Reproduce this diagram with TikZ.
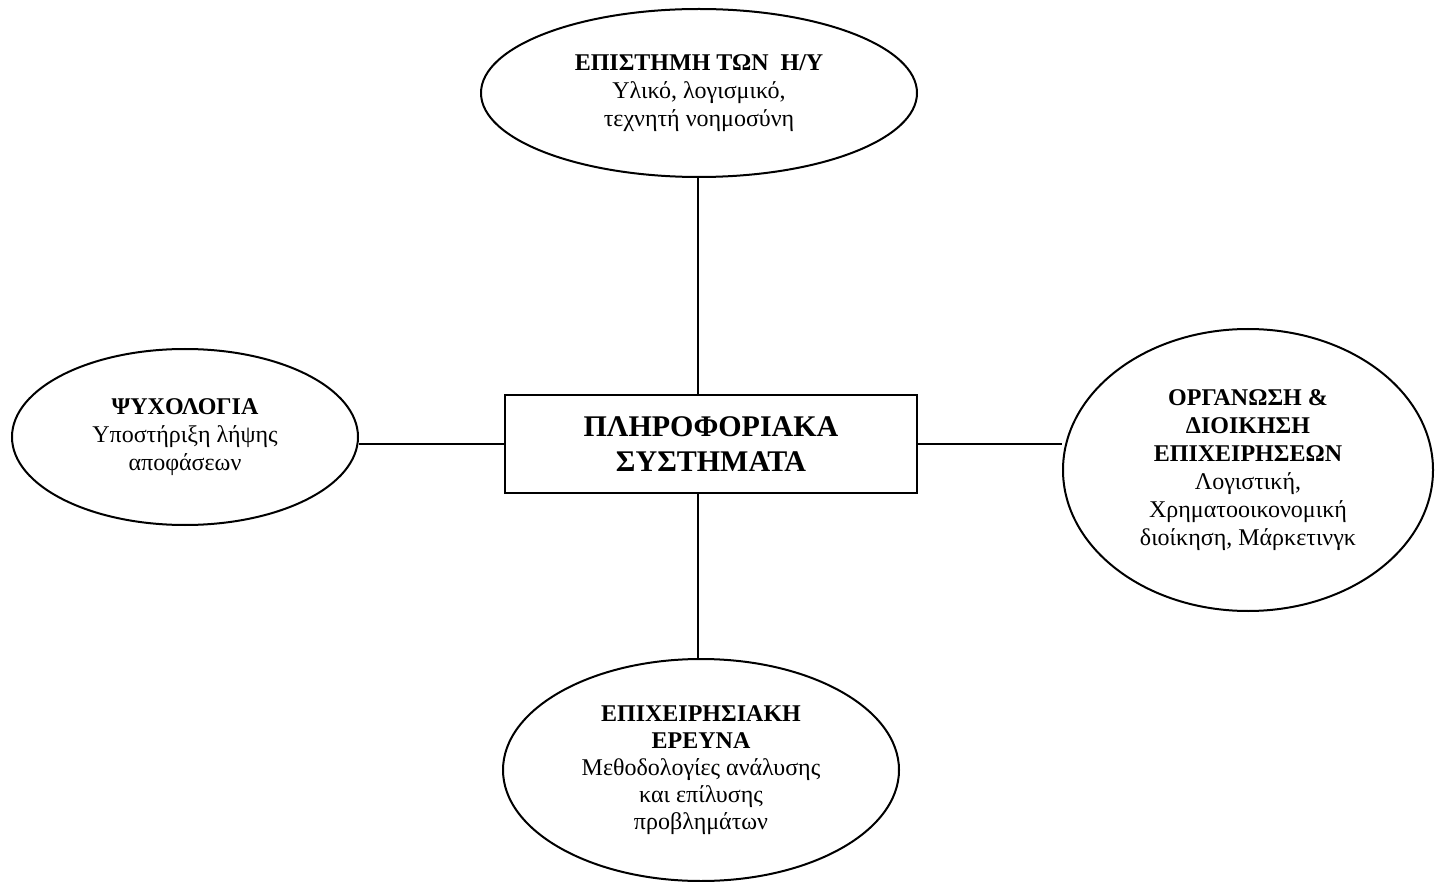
\documentclass[tikz,border=0pt]{standalone}
\usepackage{fontspec}
\setmainfont{Liberation Serif}
\usetikzlibrary{shapes.geometric}
\begin{document}
\begin{tikzpicture}[x=1pt,y=-1pt,line width=2pt,
  field/.style={draw, ellipse, inner sep=0pt, align=center, font=\fontsize{24}{28}\selectfont},
  core/.style={draw, rectangle, inner sep=0pt, align=center, font=\fontsize{30}{35}\selectfont\bfseries}]
\useasboundingbox (0,0) rectangle (1435,882);

    \node[core, minimum width=412pt, minimum height=97pt] (pis) at (711,444) {ΠΛΗΡΟΦΟΡΙΑΚΑ\\ΣΥΣΤΗΜΑΤΑ};

    \node[field, minimum width=436pt, minimum height=168pt] (cs) at (699,93)
        {\textbf{ΕΠΙΣΤΗΜΗ ΤΩΝ\ \ Η/Υ}\\Υλικό, λογισμικό,\\τεχνητή νοημοσύνη};
    \node[field, minimum width=346pt, minimum height=176pt] (psy) at (185,437)
        {\textbf{ΨΥΧΟΛΟΓΙΑ}\\Υποστήριξη λήψης\\αποφάσεων};
    \node[field, minimum width=370pt, minimum height=282pt] (org) at (1248,470)
        {\textbf{ΟΡΓΑΝΩΣΗ \&}\\\textbf{ΔΙΟΙΚΗΣΗ}\\\textbf{ΕΠΙΧΕΙΡΗΣΕΩΝ}\\Λογιστική,\\Χρηματοοικονομική\\διοίκηση, Μάρκετινγκ};
    \node[field, minimum width=396pt, minimum height=222pt, font=\fontsize{24}{27}\selectfont] (or) at (701,770)
        {\textbf{ΕΠΙΧΕΙΡΗΣΙΑΚΗ}\\\textbf{ΕΡΕΥΝΑ}\\Μεθοδολογίες ανάλυσης\\και επίλυσης\\προβλημάτων};

    \draw (cs.south -| 698,0) -- (pis.north -| 698,0);
    \draw (pis.south -| 698,0) -- (or.north -| 698,0);
    \draw (pis.west) -- (pis.west -| psy.east);
    \draw (pis.east) -- (pis.east -| org.west);

\end{tikzpicture}
\end{document}
